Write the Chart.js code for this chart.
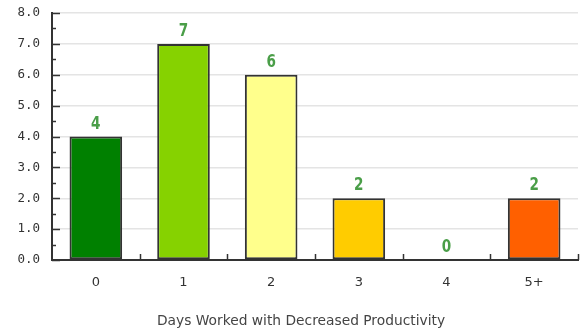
<!DOCTYPE html>
<html>
<head>
<meta charset="utf-8">
<script src="https://cdn.jsdelivr.net/npm/chart.js@4/dist/chart.umd.min.js"></script>
<style>
  html, body { margin: 0; padding: 0; background: #fff; }
  #wrap { width: 583px; height: 331px; }
</style>
</head>
<body>
<div id="wrap"><canvas id="c" width="583" height="331"></canvas></div>
<script>
// Categories and counts
const categories = ['0', '1', '2', '3', '4', '5+'];
const counts = [4, 7, 6, 2, 0, 2];
const barColors = ['#008000', '#86d200', '#ffff8c', '#ffcc00', '#ffffff', '#ff6000'];
const yTickValues = [0, 1, 2, 3, 4, 5, 6, 7, 8];
const axisTitle = 'Days Worked with Decreased Productivity';

const AXIS = '#333333';

// Inward tick marks on both axes, value labels above the bars, axis caption
const decorations = {
  id: 'decorations',
  afterDatasetsDraw(chart) {
    const ctx = chart.ctx;
    const x = chart.scales.x, y = chart.scales.y;
    const area = chart.chartArea;
    ctx.save();
    ctx.strokeStyle = AXIS;
    ctx.lineWidth = 1.5;
    // y ticks: major at integers, minor at halves
    for (let v = 0; v <= 8; v += 0.5) {
      const py = Math.round(y.getPixelForValue(v)) + 0.5;
      const len = Number.isInteger(v) ? 8 : 4;
      ctx.beginPath();
      ctx.moveTo(area.left, py);
      ctx.lineTo(area.left + len, py);
      ctx.stroke();
    }
    // x ticks at category boundaries
    for (let i = 0; i < categories.length; i++) {
      const px = Math.round(x.getPixelForValue(i + 0.5)) + 0.5;
      ctx.beginPath();
      ctx.moveTo(px, area.bottom);
      ctx.lineTo(px, area.bottom - 6);
      ctx.stroke();
    }
    // value labels, condensed bold digits
    const meta = chart.getDatasetMeta(0);
    ctx.fillStyle = '#4a9e48';
    ctx.font = "bold 17px 'DejaVu Sans', 'Liberation Sans', sans-serif";
    ctx.textAlign = 'center';
    ctx.textBaseline = 'alphabetic';
    meta.data.forEach((bar, i) => {
      ctx.save();
      ctx.translate(bar.x, bar.y - 8);
      ctx.scale(0.8, 1);
      ctx.fillText(String(counts[i]), 0, 0);
      ctx.restore();
    });
    // caption under the category axis
    ctx.fillStyle = '#444';
    ctx.font = "13.8px 'DejaVu Sans', Verdana, sans-serif";
    ctx.textBaseline = 'middle';
    ctx.fillText(axisTitle, (area.left + area.right) / 2 - 14, chart.height - 10);
    ctx.restore();
  }
};

new Chart(document.getElementById('c'), {
  type: 'bar',
  data: {
    labels: categories,
    datasets: [{
      data: counts,
      backgroundColor: barColors,
      borderColor: AXIS,
      borderWidth: counts.map(v => v === 0 ? 0 : 2),
      borderSkipped: false,
      barPercentage: 0.6,
      categoryPercentage: 1.0
    }]
  },
  options: {
    responsive: false,
    animation: false,
    devicePixelRatio: 1,
    layout: { padding: { top: 13, right: 5, left: 0, bottom: 0 } },
    plugins: { legend: { display: false }, tooltip: { enabled: false } },
    scales: {
      y: {
        min: 0,
        max: 8,
        afterBuildTicks(scale) { scale.ticks = yTickValues.map(v => ({ value: v })); },
        afterFit(scale) { scale.width = 52; scale.paddingTop = 0; scale.paddingBottom = 0; },
        ticks: {
          callback: v => Number(v).toFixed(1),
          color: AXIS,
          padding: 12,
          font: { family: "'DejaVu Sans Mono', monospace", size: 12.5 }
        },
        grid: { color: '#e4e4e4', lineWidth: 1.5, drawTicks: false },
        border: { display: true, color: AXIS, width: 2 }
      },
      x: {
        afterFit(scale) { scale.height = 71; },
        grid: { display: false },
        border: { display: true, color: AXIS, width: 2 },
        ticks: {
          color: AXIS,
          padding: 7,
          font: { family: "'DejaVu Sans', Verdana, sans-serif", size: 13 }
        }
      }
    }
  },
  plugins: [decorations]
});
</script>
</body>
</html>
